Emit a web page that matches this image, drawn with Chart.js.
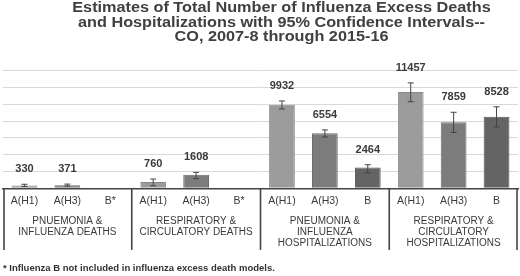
<!DOCTYPE html>
<html>
<head>
<meta charset="utf-8">
<script src="https://cdn.jsdelivr.net/npm/chart.js@4"></script>
<style>
  html, body { margin: 0; padding: 0; background: #fff; }
  #wrap { width: 520px; height: 276px; }
</style>
</head>
<body>
<div id="wrap"><canvas id="chart" width="520" height="276"></canvas></div>
<script>
// — DATA —
const groupLabels = [
  ['PNUEMONIA &', 'INFLUENZA DEATHS'],
  ['RESPIRATORY &', 'CIRCULATORY DEATHS'],
  ['PNEUMONIA &', 'INFLUENZA', 'HOSPITALIZATIONS'],
  ['RESPIRATORY &', 'CIRCULATORY', 'HOSPITALIZATIONS']
];
const strainLabels = [
  'A(H1)', 'A(H3)', 'B*',
  'A(H1)', 'A(H3)', 'B*',
  'A(H1)', 'A(H3)', 'B',
  'A(H1)', 'A(H3)', 'B'
];
const estimates = [330, 371, null, 760, 1608, null, 9932, 6554, 2464, 11457, 7859, 8528];
const ciLower   = [220, 260, null, 300, 1150, null, 9450, 6100, 1850, 10300, 6650, 7300];
const ciUpper   = [480, 500, null, 1100, 1900, null, 10400, 6950, 2800, 12550, 9050, 9700];
const yTicksMax = 14000;
const yTickStep = 2000;

const title = [
  'Estimates of Total Number of Influenza Excess Deaths',
  'and Hospitalizations with 95% Confidence Intervals--',
  'CO, 2007-8 through 2015-16'
];
const footnote = '* Influenza B not included in influenza excess death models.';

// one shade per strain: A(H1), A(H3), B
const strainFill   = ['#9b9b9b', '#7c7c7c', '#646464'];
const strainBorder = ['#8a8a8a', '#6c6c6c', '#555555'];
const ink = '#3a3a3a';
const FONT = '"Liberation Sans", Arial, sans-serif';

// error bars + value labels, from the y scale
const errorBars = {
  id: 'errorBars',
  afterDatasetsDraw(chart) {
    const ctx = chart.ctx;
    const y = chart.scales.y;
    const meta = chart.getDatasetMeta(0);
    ctx.save();
    ctx.strokeStyle = '#444';
    ctx.lineWidth = 1;
    estimates.forEach((v, i) => {
      if (v == null) return;
      const x = meta.data[i].x;
      const yLo = y.getPixelForValue(ciLower[i]);
      const yHi = y.getPixelForValue(ciUpper[i]);
      ctx.beginPath();
      ctx.moveTo(x, yLo); ctx.lineTo(x, yHi);
      ctx.moveTo(x - 3, yLo); ctx.lineTo(x + 3, yLo);
      ctx.moveTo(x - 3, yHi); ctx.lineTo(x + 3, yHi);
      ctx.stroke();
      ctx.fillStyle = ink;
      ctx.font = 'bold 11px ' + FONT;
      ctx.textAlign = 'center';
      ctx.textBaseline = 'middle';
      ctx.fillText(String(v), x, yHi - 15);
    });
    ctx.restore();
  }
};

// the box lines of the category table under the axis
const tableLines = {
  id: 'tableLines',
  afterDraw(chart) {
    const ctx = chart.ctx;
    const x = chart.scales.x;
    const bottom = chart.scales.x2.bottom;
    const top = chart.chartArea.bottom;
    ctx.save();
    ctx.strokeStyle = '#444';
    ctx.lineWidth = 1.6;
    for (let k = 0; k <= strainLabels.length; k += 3) {
      let px = x.getPixelForValue(k - 0.5);
      px = Math.min(Math.max(px, x.left + 1), x.right - 1);
      ctx.beginPath();
      ctx.moveTo(px, top);
      ctx.lineTo(px, bottom);
      ctx.stroke();
    }
    ctx.restore();
  }
};

// title: a bit right of centre and widened, as in the original
const stretchedTitle = {
  id: 'stretchedTitle',
  afterDraw(chart) {
    const ctx = chart.ctx;
    ctx.save();
    ctx.fillStyle = '#404040';
    ctx.font = 'bold 14px ' + FONT;
    ctx.textAlign = 'center';
    ctx.textBaseline = 'middle';
    title.forEach((line, i) => {
      ctx.save();
      ctx.translate(chart.width / 2 + 21.5, 8.5 + i * 14.5);
      ctx.scale(1.16, 1);
      ctx.fillText(line, 0, 0);
      ctx.restore();
    });
    ctx.restore();
  }
};

new Chart(document.getElementById('chart'), {
  type: 'bar',
  data: {
    labels: strainLabels,
    datasets: [{
      data: estimates,
      backgroundColor: strainLabels.map((_, i) => strainFill[i % 3]),
      borderColor: strainLabels.map((_, i) => strainBorder[i % 3]),
      borderWidth: 1,
      barPercentage: 0.6,
      categoryPercentage: 1
    }]
  },
  options: {
    responsive: false,
    animation: false,
    layout: { padding: { left: 3, right: 2, top: 70.7, bottom: 0 } },
    plugins: {
      legend: { display: false },
      tooltip: { enabled: false },
      title: { display: false },
      subtitle: {
        display: true,
        position: 'bottom',
        align: 'start',
        text: footnote,
        color: '#333',
        font: { family: FONT, size: 9.5, weight: 'bold', lineHeight: 1.2 },
        padding: { top: 12.7, bottom: 2 }
      }
    },
    scales: {
      y: {
        min: 0,
        max: yTicksMax,
        ticks: { display: false, stepSize: yTickStep },
        grid: { color: '#d9d9d9', drawTicks: false },
        border: { display: false }
      },
      x: {
        offset: true,
        grid: { display: false, drawTicks: false },
        border: { display: true, color: '#444', width: 1.5 },
        ticks: {
          color: ink,
          autoSkip: false,
          maxRotation: 0,
          padding: 7,
          font: { family: FONT, size: 10.5, lineHeight: 1.2 }
        }
      },
      x2: {
        type: 'category',
        position: 'bottom',
        labels: groupLabels,
        offset: true,
        grid: { display: false, drawTicks: false },
        border: { display: false },
        ticks: {
          color: ink,
          autoSkip: false,
          maxRotation: 0,
          padding: 1,
          font: { family: FONT, size: 10, lineHeight: 1.1 }
        }
      }
    }
  },
  plugins: [errorBars, tableLines, stretchedTitle]
});
</script>
</body>
</html>
